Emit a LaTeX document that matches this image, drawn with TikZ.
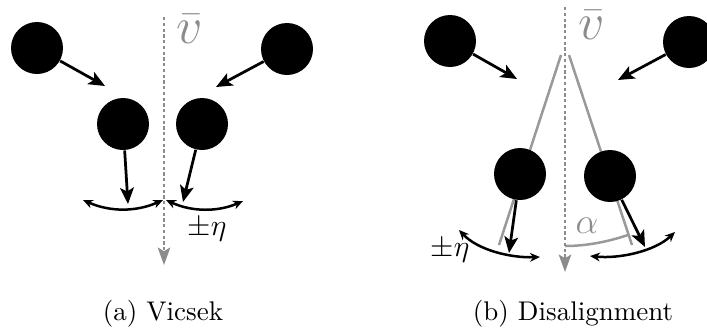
\documentclass[tikz,border=0pt]{standalone}
\usepackage{amsmath}
\usepackage{amssymb}
\usetikzlibrary{arrows.meta}

\tikzset{
	bird/.style={circle, fill=black, inner sep=0pt, minimum size=20.8pt},
	heading/.style={-{Stealth[length=6.5pt, width=5.5pt, inset=1.5pt]}, line width=1.1pt},
	noise/.style={{Stealth[length=4pt, width=3.5pt]}-{Stealth[length=4pt, width=3.5pt]}, line width=1pt},
	mean/.style={black!45, dash pattern=on 1.3pt off 1pt, line width=0.8pt, -{Stealth[length=7pt, width=5pt, inset=1.5pt]}},
	cone/.style={black!40, line width=1pt},
	caption/.style={font=\fontsize{10.8}{13}\selectfont}
}

\begin{document}
\begin{tikzpicture}[x=0.4pt, y=-0.4pt]
	\useasboundingbox (0,0) rectangle (707,334);

	% (a) Vicsek
	\coordinate (aTop) at (164,17);
	\coordinate (aBot) at (164,265);
	\draw [mean] (aTop) -- (aBot);
	\node [inner sep=0pt] (aV) at (190,29) {\huge\color{black!45}$\bar{v}$};

	\node [bird] (a1) at (37,48) {};
	\node [bird] (a2) at (287,49) {};
	\node [bird] (a3) at (123,124) {};
	\node [bird] (a4) at (202,124) {};

	\coordinate (a1h) at (105,86);
	\coordinate (a2h) at (216,87);
	\coordinate (a3h) at (128,204);
	\coordinate (a4h) at (183,202);
	\draw [heading] (a1) -- (a1h);
	\draw [heading] (a2) -- (a2h);
	\draw [heading] (a3) -- (a3h);
	\draw [heading] (a4) -- (a4h);

	\draw [noise] (83,200) .. controls (110,212) and (136,212) .. (163,200);
	\draw [noise] (166,200) .. controls (192,212) and (218,212) .. (243,201);
	\node (aEta) at (207,230) {\large$\pm\eta$};

	\node [caption] (aCap) at (163,314) {(a) Vicsek};

	% (b) Disalignment
	\coordinate (bTop) at (565,7);
	\coordinate (bBot) at (565,272);
	\coordinate (bL0) at (561,55);
	\coordinate (bL1) at (499,245);
	\coordinate (bR0) at (569,55);
	\coordinate (bR1) at (632,245);
	\draw [cone] (bL0) -- (bL1);
	\draw [cone] (bR0) -- (bR1);
	\draw [cone] (565,246) .. controls (586,246) and (607,242) .. (628,235);
	\draw [mean] (bTop) -- (bBot);
	\node [inner sep=0pt] (bV) at (592,25) {\huge\color{black!45}$\bar{v}$};
	\node (bAlpha) at (587,226) {\Large\color{black!45}$\alpha$};

	\node [bird] (b1) at (450,41) {};
	\node [bird] (b2) at (689,42) {};
	\node [bird] (b3) at (520,174) {};
	\node [bird] (b4) at (610,176) {};

	\coordinate (b1h) at (517,79);
	\coordinate (b2h) at (618,80);
	\coordinate (b3h) at (509,253);
	\coordinate (b4h) at (645,247);
	\draw [heading] (b1) -- (b1h);
	\draw [heading] (b2) -- (b2h);
	\draw [heading] (b3) -- (b3h);
	\draw [heading] (b4) -- (b4h);

	\draw [noise] (459,230) .. controls (478,250) and (510,258) .. (540,257);
	\draw [noise] (590,256) .. controls (620,259) and (655,251) .. (675,232);
	\node (bEta) at (450,251) {\large$\pm\eta$};

	\node [caption] (bCap) at (573,314) {(b) Disalignment};
\end{tikzpicture}
\end{document}
